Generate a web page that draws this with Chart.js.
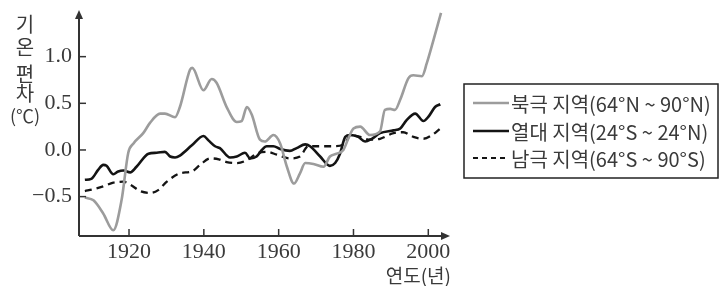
<!DOCTYPE html>
<html>
<head>
<meta charset="utf-8">
<script src="https://cdn.jsdelivr.net/npm/chart.js@4.4.1/dist/chart.umd.min.js"></script>
<style>
  html,body{margin:0;padding:0;background:#fff;}
  #wrap{position:relative;width:720px;height:286px;}
</style>
</head>
<body>
<div id="wrap"><canvas id="c" width="720" height="286"></canvas></div>
<script>
// ---- data ----
const seriesNames = ['북극 지역(64°N ~ 90°N)', '열대 지역(24°S ~ 24°N)', '남극 지역(64°S ~ 90°S)'];
const xTicks = [1920, 1940, 1960, 1980, 2000];
const yTicks = [-0.5, 0.0, 0.5, 1.0];
const yTitle = ['기', '온', '편', '차', '(℃)'];
const xTitle = '연도(년)';

const arcticYears = [1908.2,1910.5,1913.1,1915.8,1918,1919.8,1921.2,1923.8,1925.6,1928.3,1929.6,1932.3,1933.6,1936.3,1936.9,1939.9,1942.1,1943.4,1946.1,1948.8,1950.1,1951.5,1952.8,1955,1956.3,1958.6,1960.4,1962.2,1964.1,1965.7,1967.1,1969.3,1972,1973.7,1975.5,1977.3,1978.6,1980,1981.8,1984.4,1987.1,1988.4,1989.8,1991.1,1992.5,1994.7,1996,1998.3,1999.6,2001.4,2003.4];
const arcticValues = [-0.51,-0.54,-0.68,-0.86,-0.54,-0.03,0.07,0.18,0.29,0.39,0.39,0.35,0.46,0.86,0.88,0.64,0.76,0.72,0.46,0.30,0.31,0.46,0.38,0.11,0.09,0.16,0.07,-0.18,-0.36,-0.25,-0.14,-0.15,-0.18,-0.07,-0.04,0.0,0.12,0.23,0.25,0.16,0.20,0.43,0.44,0.43,0.54,0.77,0.80,0.79,0.93,1.18,1.47];

const tropicYears = [1908.2,1909.9,1911.8,1913.1,1914,1915.8,1917.1,1918.5,1920.3,1922,1925.2,1927.4,1929.6,1931,1932.3,1933.6,1936.8,1939.9,1941.3,1943,1944.3,1947,1948.8,1951,1952.4,1954.1,1955.5,1956.8,1958.6,1960.4,1963,1964.8,1967.1,1968.4,1971.1,1973.7,1975.1,1976.4,1977.8,1979.1,1981.3,1983.1,1984.9,1987.1,1990.7,1992.5,1994.2,1996.5,1998.7,2000.1,2001.8,2003.2];
const tropicValues = [-0.32,-0.31,-0.21,-0.16,-0.17,-0.26,-0.23,-0.22,-0.24,-0.18,-0.04,-0.03,-0.02,-0.07,-0.08,-0.06,0.05,0.15,0.10,0.04,0.02,-0.08,-0.07,-0.03,-0.09,-0.07,0.0,0.04,0.04,0.01,-0.01,0.02,0.06,0.04,-0.07,-0.17,-0.14,-0.04,0.14,0.16,0.14,0.09,0.12,0.18,0.21,0.23,0.32,0.39,0.31,0.36,0.46,0.49];

const antarcticYears = [1908.2,1910.5,1913.1,1915.8,1918.5,1920.7,1922.9,1925.6,1927.8,1930.1,1933.6,1936.8,1939,1941.7,1944,1946.1,1948.8,1951.5,1954.1,1956.8,1959.5,1963,1965.7,1967.9,1971.1,1974.6,1977.8,1979.1,1981.8,1984.4,1987.1,1990.7,1993.3,1996,1998.7,2001,2003.2];
const antarcticValues = [-0.44,-0.42,-0.39,-0.35,-0.34,-0.38,-0.44,-0.46,-0.43,-0.34,-0.25,-0.23,-0.16,-0.09,-0.10,-0.13,-0.14,-0.11,-0.04,-0.02,-0.05,-0.09,-0.07,0.04,0.04,0.04,0.07,0.16,0.14,0.11,0.12,0.18,0.19,0.14,0.12,0.16,0.23];

const pts = (xs, ys) => xs.map((x, i) => ({x: x, y: ys[i]}));

const COL_GRAY = '#9c9c9c';
const COL_BLACK = '#141414';
const AX = '#333';
const TXT = '#3a3a3a';

const decor = {
  id: 'decor',
  afterDraw(chart) {
    const ctx = chart.ctx;
    const xs = chart.scales.x, ys = chart.scales.y;
    const L = xs.left, R = xs.right, T = ys.top, B = ys.bottom;
    ctx.save();
    // axes
    ctx.strokeStyle = AX; ctx.fillStyle = AX; ctx.lineWidth = 2;
    ctx.beginPath(); ctx.moveTo(L, B); ctx.lineTo(R - 6, B); ctx.stroke();
    ctx.beginPath(); ctx.moveTo(L, B); ctx.lineTo(L, T + 6); ctx.stroke();
    // arrows
    ctx.beginPath(); ctx.moveTo(R, B); ctx.lineTo(R - 9, B - 4); ctx.lineTo(R - 9, B + 4); ctx.closePath(); ctx.fill();
    ctx.beginPath(); ctx.moveTo(L, T); ctx.lineTo(L - 4, T + 9); ctx.lineTo(L + 4, T + 9); ctx.closePath(); ctx.fill();
    // inside ticks
    ctx.lineWidth = 1.5;
    xTicks.forEach(v => { const p = xs.getPixelForValue(v); ctx.beginPath(); ctx.moveTo(p, B); ctx.lineTo(p, B - 7); ctx.stroke(); });
    yTicks.forEach(v => { const p = ys.getPixelForValue(v); ctx.beginPath(); ctx.moveTo(L, p); ctx.lineTo(L + 7, p); ctx.stroke(); });
    // y title (stacked)
    ctx.fillStyle = TXT;
    ctx.textAlign = 'center'; ctx.textBaseline = 'middle';
    const yc = [24, 47, 74, 93, 116];
    yTitle.forEach((t, i) => {
      ctx.font = (i === 4 ? '18px' : '20px') + ' "Noto Sans CJK KR"';
      ctx.fillText(t, 25, yc[i]);
    });
    // x title
    ctx.textAlign = 'right';
    ctx.font = '19px "Noto Sans CJK KR"';
    ctx.fillText(xTitle, 451, 276);
    // legend
    const bx = 464, by = 84, bw = 254, bh = 94;
    ctx.strokeStyle = '#222'; ctx.lineWidth = 1.5;
    ctx.strokeRect(bx, by, bw, bh);
    const rows = [103, 131, 158];
    const styles = [
      {c: COL_GRAY, d: [], w: 2.5},
      {c: COL_BLACK, d: [], w: 2.5},
      {c: COL_BLACK, d: [5, 4], w: 2}
    ];
    ctx.textAlign = 'left';
    ctx.font = '20px "Noto Sans CJK KR"';
    rows.forEach((ry, i) => {
      const s = styles[i];
      ctx.strokeStyle = s.c; ctx.lineWidth = s.w; ctx.setLineDash(s.d);
      ctx.beginPath(); ctx.moveTo(473, ry); ctx.lineTo(509, ry); ctx.stroke();
      ctx.setLineDash([]);
      ctx.fillStyle = TXT;
      ctx.fillText(seriesNames[i], 511, ry + 1);
    });
    ctx.restore();
  }
};

new Chart(document.getElementById('c'), {
  type: 'line',
  data: {
    datasets: [
      {label: seriesNames[0], data: pts(arcticYears, arcticValues), borderColor: COL_GRAY, borderWidth: 2.6, pointRadius: 0, cubicInterpolationMode: 'monotone', fill: false},
      {label: seriesNames[1], data: pts(tropicYears, tropicValues), borderColor: COL_BLACK, borderWidth: 2.6, pointRadius: 0, cubicInterpolationMode: 'monotone', fill: false},
      {label: seriesNames[2], data: pts(antarcticYears, antarcticValues), borderColor: COL_BLACK, borderWidth: 2.3, borderDash: [7, 5], pointRadius: 0, cubicInterpolationMode: 'monotone', fill: false}
    ]
  },
  options: {
    responsive: false,
    animation: false,
    events: [],
    layout: {padding: {top: 10, right: 270, left: 0, bottom: 0}},
    plugins: {legend: {display: false}, tooltip: {enabled: false}},
    scales: {
      x: {
        type: 'linear', min: 1906.63, max: 2005.8,
        afterBuildTicks: s => { s.ticks = xTicks.map(v => ({value: v})); },
        afterFit: s => { s.height = 50; s.paddingLeft = 0; s.paddingRight = 0; },
        grid: {display: false, drawTicks: false},
        border: {display: false},
        ticks: {padding: 3, color: TXT, font: {family: 'Liberation Serif', size: 22}, maxRotation: 0, callback: v => String(v)}
      },
      y: {
        type: 'linear', min: -0.922, max: 1.5,
        afterBuildTicks: s => { s.ticks = yTicks.map(v => ({value: v})); },
        afterFit: s => { s.width = 79; s.paddingTop = 0; s.paddingBottom = 0; },
        grid: {display: false, drawTicks: false},
        border: {display: false},
        ticks: {padding: 7, color: TXT, font: {family: 'Liberation Serif', size: 22}, callback: v => (v < 0 ? '−' : '') + Math.abs(v).toFixed(1)}
      }
    }
  },
  plugins: [decor]
});
</script>
</body>
</html>
